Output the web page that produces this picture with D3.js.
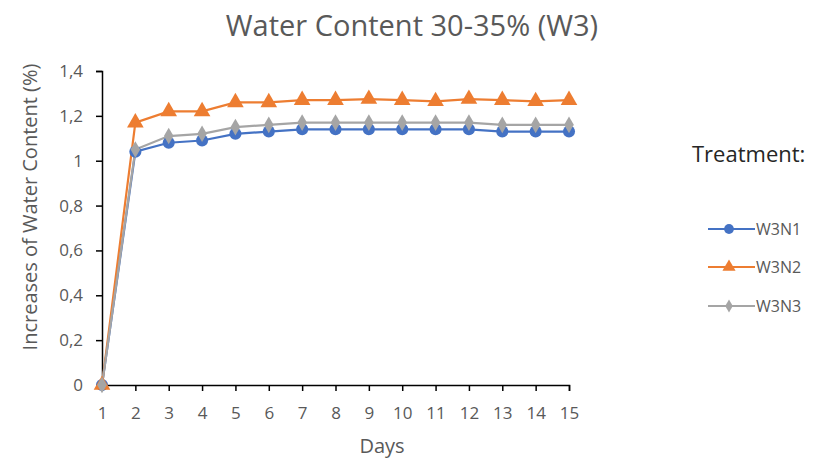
<!DOCTYPE html>
<html>
<head>
<meta charset="utf-8">
<script src="https://cdn.jsdelivr.net/npm/d3@7"></script>
<style>
  html, body { margin: 0; padding: 0; background: #fff; }
  svg { display: block; font-family: "Open Sans", "Noto Sans", sans-serif; }
</style>
</head>
<body>
<svg id="chart" width="819" height="462"></svg>
<script>
// Days on the x axis
const days = [1, 2, 3, 4, 5, 6, 7, 8, 9, 10, 11, 12, 13, 14, 15];

// Increase of water content (%) per treatment
const w3n1 = [0, 1.04, 1.08, 1.09, 1.12, 1.13, 1.14, 1.14, 1.14, 1.14, 1.14, 1.14, 1.13, 1.13, 1.13];
const w3n2 = [0, 1.17, 1.22, 1.22, 1.26, 1.26, 1.27, 1.27, 1.275, 1.27, 1.265, 1.275, 1.27, 1.265, 1.27];
const w3n3 = [0, 1.05, 1.11, 1.12, 1.15, 1.16, 1.17, 1.17, 1.17, 1.17, 1.17, 1.17, 1.16, 1.16, 1.16];

const seriesNames = ["W3N1", "W3N2", "W3N3"];
const yTicks = [0, 0.2, 0.4, 0.6, 0.8, 1, 1.2, 1.4];

const series = [
  { name: seriesNames[0], values: w3n1, color: "#4472C4", symbol: d3.symbolCircle, size: 115, legendSize: 75 },
  { name: seriesNames[1], values: w3n2, color: "#ED7D31", symbol: d3.symbolTriangle, size: 120, legendSize: 75 },
  { name: seriesNames[2], values: w3n3, color: "#A5A5A5", symbol: d3.symbolDiamond, size: 80, legendSize: 50 }
];

const svg = d3.select("#chart");
const textColor = "#595959";

const x = d3.scalePoint().domain(days).range([102, 569]);
const y = d3.scaleLinear().domain([0, 1.4]).range([385, 71]);

// Title
svg.append("text")
  .attr("x", 412).attr("y", 36)
  .attr("text-anchor", "middle")
  .attr("fill", textColor)
  .style("font-size", "29px")
  .text("Water Content 30-35% (W3)");

// Axes
const fmt = d => String(d3.format("~g")(d)).replace(".", ",");

const yAxis = svg.append("g")
  .attr("transform", "translate(102,0)")
  .call(d3.axisLeft(y).tickValues(yTicks).tickFormat(fmt).tickSize(6).tickPadding(13));

const xAxis = svg.append("g")
  .attr("transform", "translate(0,385)")
  .call(d3.axisBottom(x).tickSize(6).tickPadding(16));

[yAxis, xAxis].forEach(g => {
  g.select(".domain").attr("stroke", "#000").attr("stroke-width", 1.5);
  g.selectAll(".tick line").attr("stroke", "#000").attr("stroke-width", 1.5);
  g.selectAll(".tick text")
    .attr("fill", textColor)
    .style("font-size", "17px")
    .style("font-family", "'Open Sans', sans-serif");
});

// Axis titles
svg.append("text")
  .attr("x", 382).attr("y", 453)
  .attr("text-anchor", "middle")
  .attr("fill", textColor)
  .style("font-size", "20px")
  .text("Days");

svg.append("text")
  .attr("transform", "translate(37,207) rotate(-90)")
  .attr("text-anchor", "middle")
  .attr("fill", textColor)
  .style("font-size", "20px")
  .text("Increases of Water Content (%)");

// Lines and markers
const line = d3.line()
  .x((d, i) => x(days[i]))
  .y(d => y(d));

series.forEach(s => {
  svg.append("path")
    .datum(s.values)
    .attr("fill", "none")
    .attr("stroke", s.color)
    .attr("stroke-width", 2.2)
    .attr("d", line);
});

series.forEach(s => {
  svg.append("g").selectAll("path")
    .data(s.values)
    .join("path")
    .attr("transform", (d, i) => `translate(${x(days[i])},${y(d)})`)
    .attr("d", d3.symbol().type(s.symbol).size(s.size))
    .attr("fill", s.color);
});

// Legend
svg.append("text")
  .attr("x", 692).attr("y", 162)
  .attr("fill", "#262626")
  .style("font-size", "22px")
  .text("Treatment:");

const legendY = [229, 267, 306];
series.forEach((s, i) => {
  const g = svg.append("g").attr("transform", `translate(0,${legendY[i]})`);
  g.append("line")
    .attr("x1", 708).attr("x2", 755)
    .attr("stroke", s.color).attr("stroke-width", 2.2);
  g.append("path")
    .attr("transform", "translate(729,0)")
    .attr("d", d3.symbol().type(s.symbol).size(s.legendSize))
    .attr("fill", s.color);
  g.append("text")
    .attr("x", 756).attr("y", 6)
    .attr("fill", textColor)
    .style("font-size", "16px")
    .text(s.name);
});
</script>
</body>
</html>
